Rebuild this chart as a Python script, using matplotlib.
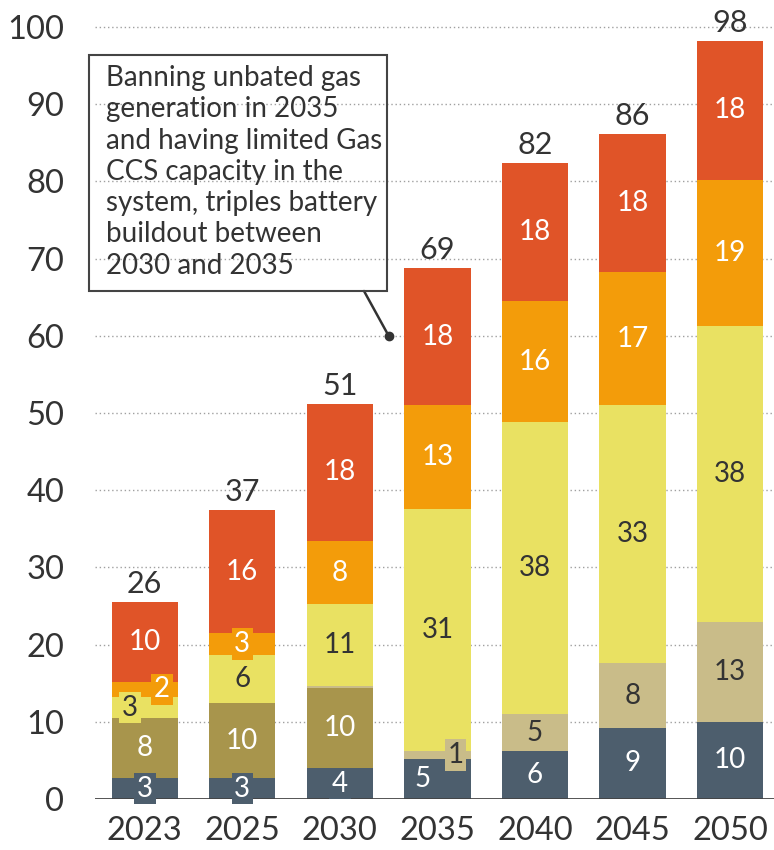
import numpy as np
import matplotlib
matplotlib.use("Agg")
import matplotlib.pyplot as plt
from matplotlib.patches import Rectangle

plt.rcParams['font.family'] = ['Lato', 'DejaVu Sans']

years = ['2023', '2025', '2030', '2035', '2040', '2045', '2050']

# capacity by technology, stacked bottom -> top
slate  = [2.7, 2.7, 4.0, 5.2, 6.2, 9.2, 10.0]
olive  = [7.8, 9.7, 10.4, 0.0, 0.0, 0.0, 0.0]
tan    = [0.0, 0.0, 0.2, 1.0, 4.8, 8.4, 12.9]
yellow = [2.7, 6.3, 10.6, 31.4, 37.8, 33.4, 38.4]
orange = [2.0, 2.8, 8.2, 13.4, 15.7, 17.3, 18.9]
red    = [10.3, 15.9, 17.8, 17.8, 17.9, 17.8, 18.0]

series = [slate, olive, tan, yellow, orange, red]
colors = ['#4d5e6d', '#a8954c', '#c9bc89', '#e9e162', '#f39c0a', '#e05428']
txt_colors = ['white', 'white', '#333333', '#333333', 'white', 'white']

# nudge a few labels sideways where segments are thin (px)
nudge = {(3, 0): -15, (4, 0): 17, (2, 3): 18, (0, 3): -15}

note = ("Banning unbated gas\ngeneration in 2035\nand having limited Gas\n"
        "CCS capacity in the\nsystem, triples battery\nbuildout between\n2030 and 2035")

W, H = 774, 850
fig = plt.figure(figsize=(W/100, H/100), dpi=100)
ax = fig.add_axes([95/W, 51/H, 1-95/W, 1-51/H])

x = np.arange(len(years))
bottom = np.zeros(len(years))
for si, (vals, c) in enumerate(zip(series, colors)):
    vals = np.array(vals)
    ax.bar(x, vals, 0.68, bottom=bottom, color=c, zorder=3)
    for i, v in enumerate(vals):
        if round(v) < 1:
            continue
        dx = nudge.get((si, i), 0)
        ax.annotate(str(int(round(v))), (x[i], bottom[i] + v/2), xytext=(dx*0.72, 0),
                    textcoords='offset points', ha='center', va='center',
                    fontsize=20, color=txt_colors[si], zorder=6,
                    bbox=dict(boxstyle='square,pad=0.1', fc=c, ec='none'),
                    annotation_clip=False)
    bottom += vals

for i, t in enumerate(bottom):
    ax.annotate(str(int(round(t))), (x[i], t), xytext=(0, 3), textcoords='offset points',
                ha='center', va='bottom', fontsize=22, color='#333333', zorder=6)

ax.set_xlim(-0.51, 6.45)
ax.set_ylim(0, 103.5)
ax.set_yticks(np.arange(0, 101, 10))
ax.set_xticks(x)
ax.set_xticklabels(years)
ax.tick_params(axis='both', length=0, labelsize=23.5, colors='#333333')
ax.tick_params(axis='y', pad=22)
ax.tick_params(axis='x', pad=12)
for s in ax.spines.values():
    s.set_visible(False)
for yv in range(10, 101, 10):
    ax.axhline(yv, color='#a0a0a0', lw=1, ls=(0, (1, 2)), zorder=1)
ax.axhline(0, color='#444444', lw=2, zorder=4)

# callout box
fig.patches.append(Rectangle((89/W, 1-291/H), 298/W, 236/H, transform=fig.transFigure,
                             fill=False, ec='#444444', lw=1.5, zorder=10))
fig.text(106/W, 1-65/H, note, ha='left', va='top', fontsize=20, color='#333333',
         linespacing=1.25)
ax.annotate('', xy=(2.5, 60), xytext=(364/W, 1-291/H), textcoords='figure fraction',
            arrowprops=dict(arrowstyle='-', color='#333333', lw=1.8, shrinkA=0, shrinkB=0),
            annotation_clip=False)
ax.plot(2.5, 60, 'o', color='#333333', ms=6, zorder=7, clip_on=False)

fig.savefig('out.png', dpi=100)
